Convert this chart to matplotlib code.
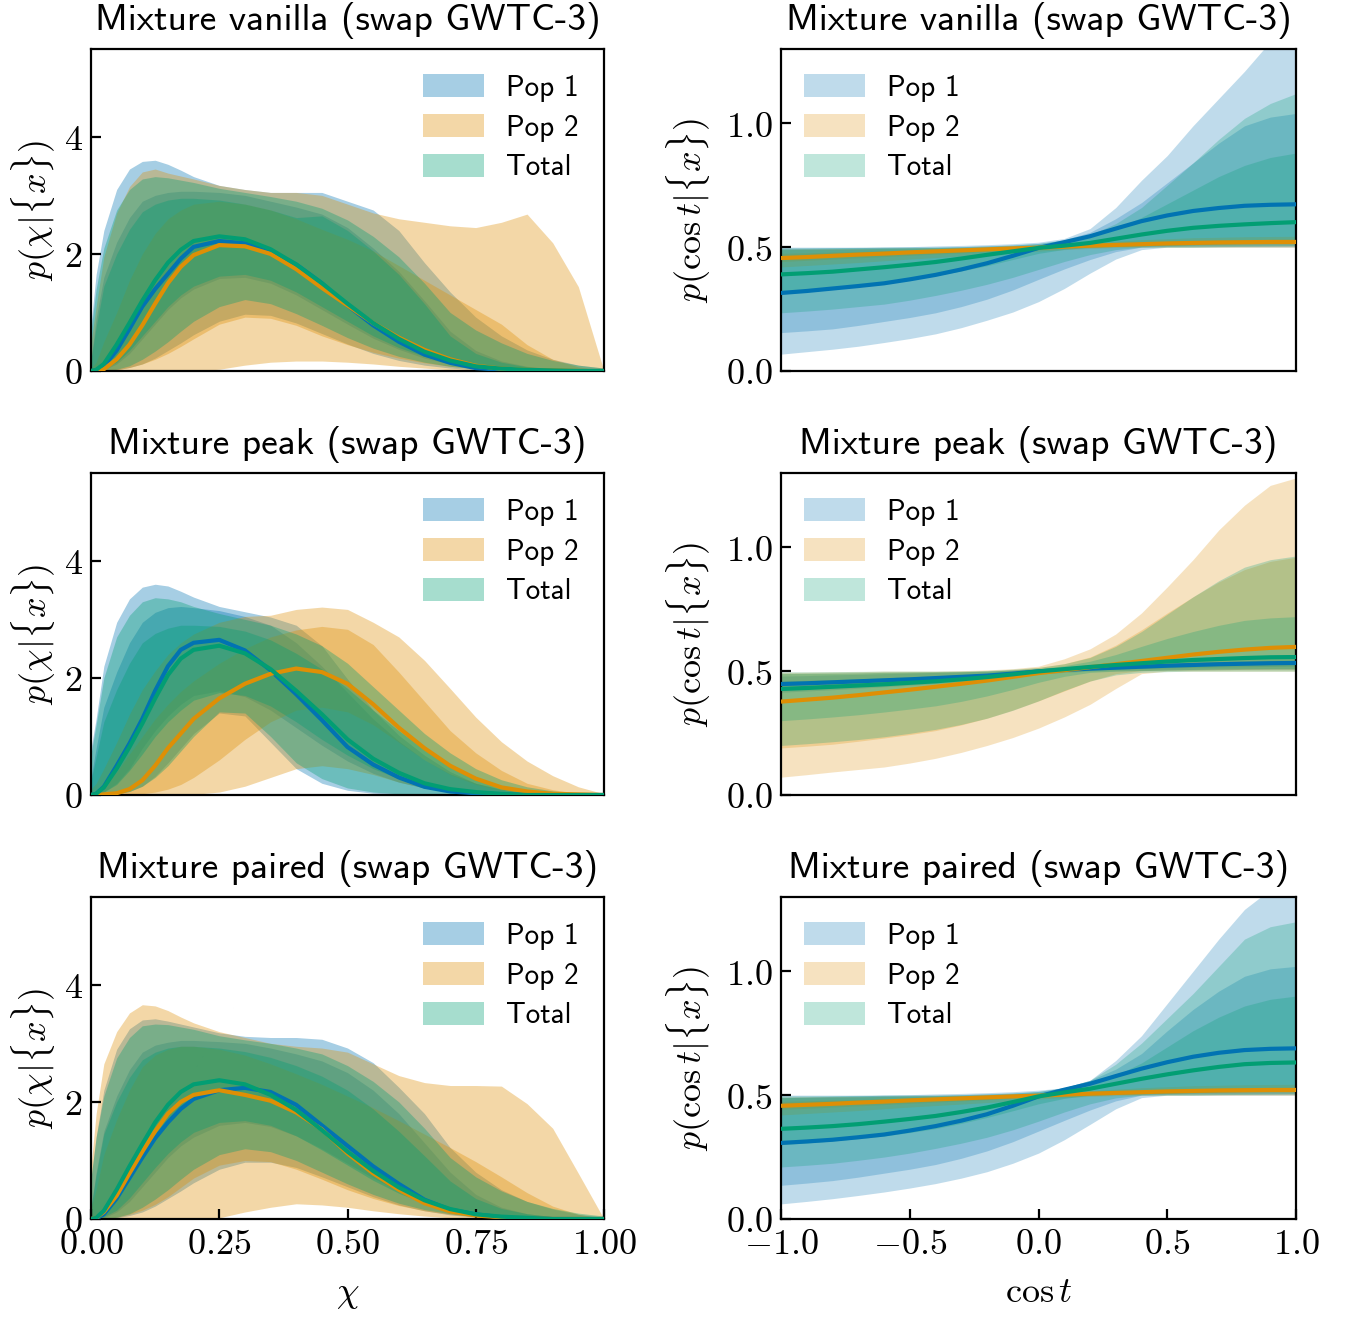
import matplotlib
matplotlib.use("Agg")
import matplotlib.pyplot as plt
from matplotlib.patches import Patch
import numpy as np

plt.rcParams["mathtext.fontset"] = "cm"
plt.rcParams["axes.unicode_minus"] = False

# ---------------------------------------------------------------- grids
chi = [0, 0.01, 0.025, 0.05, 0.075, 0.1, 0.125, 0.15, 0.175, 0.2,
       0.25, 0.3, 0.35, 0.4, 0.45, 0.5, 0.55, 0.6, 0.65, 0.7, 0.75,
       0.8, 0.85, 0.9, 0.95, 1.0]
cost = [-1.0, -0.9, -0.8, -0.7, -0.6, -0.5, -0.4, -0.3, -0.2, -0.1, 0.0,
        0.1, 0.2, 0.3, 0.4, 0.5, 0.6, 0.7, 0.8, 0.9, 1.0]

# each series: rows are the 5%, 25%, 50%, 75%, 95% quantiles of the density
# ---------------------------------------------------------------- vanilla, chi
vanilla_chi_pop1 = [
    [0, 0, 0, 0.02, 0.06, 0.12, 0.22, 0.35, 0.48, 0.62, 0.85, 0.97, 0.95, 0.82, 0.64, 0.46, 0.30, 0.18, 0.10, 0.05, 0.02, 0.01, 0, 0, 0, 0],
    [0, 0, 0.02, 0.12, 0.3, 0.55, 0.8, 1.05, 1.25, 1.40, 1.58, 1.60, 1.50, 1.30, 1.05, 0.80, 0.56, 0.37, 0.22, 0.12, 0.06, 0.02, 0.01, 0, 0, 0],
    [0, 0.01, 0.08, 0.35, 0.72, 1.1, 1.4, 1.66, 1.92, 2.12, 2.22, 2.18, 2.05, 1.82, 1.50, 1.12, 0.78, 0.50, 0.28, 0.14, 0.05, 0.02, 0.01, 0, 0, 0],
    [0.2, 0.9, 1.6, 2.2, 2.62, 2.9, 3.0, 3.05, 3.07, 3.07, 3.05, 3.0, 2.9, 2.8, 2.68, 2.45, 2.1, 1.7, 1.2, 0.68, 0.35, 0.17, 0.08, 0.03, 0.01, 0],
    [0.8, 1.65, 2.4, 3.1, 3.45, 3.58, 3.6, 3.53, 3.43, 3.32, 3.17, 3.1, 3.05, 3.05, 3.05, 2.9, 2.75, 2.4, 1.85, 1.35, 0.92, 0.6, 0.36, 0.2, 0.1, 0.05],
]
vanilla_chi_pop2 = [
    [0, 0, 0, 0, 0, 0, 0, 0, 0, 0, 0.03, 0.1, 0.15, 0.17, 0.17, 0.15, 0.12, 0.08, 0.05, 0.02, 0.01, 0, 0, 0, 0, 0],
    [0, 0, 0, 0.02, 0.06, 0.12, 0.2, 0.3, 0.42, 0.55, 0.8, 0.92, 0.9, 0.78, 0.6, 0.45, 0.32, 0.22, 0.14, 0.08, 0.04, 0.02, 0.01, 0, 0, 0],
    [0, 0, 0.03, 0.2, 0.45, 0.78, 1.15, 1.5, 1.78, 1.98, 2.15, 2.13, 2.0, 1.74, 1.42, 1.12, 0.82, 0.57, 0.36, 0.2, 0.09, 0.04, 0.02, 0.01, 0, 0],
    [0.05, 0.15, 0.5, 1.0, 1.55, 2.0, 2.35, 2.6, 2.75, 2.85, 2.9, 2.85, 2.75, 2.6, 2.42, 2.25, 2.05, 1.8, 1.55, 1.3, 1.05, 0.8, 0.45, 0.2, 0.07, 0],
    [0.5, 1.1, 1.95, 2.7, 3.15, 3.4, 3.45, 3.38, 3.33, 3.28, 3.17, 3.1, 3.05, 3.05, 3.0, 2.85, 2.7, 2.6, 2.54, 2.48, 2.45, 2.54, 2.68, 2.19, 1.44, 0],
]
vanilla_chi_total = [
    [0, 0, 0, 0.03, 0.09, 0.2, 0.34, 0.5, 0.68, 0.85, 1.1, 1.22, 1.15, 0.98, 0.78, 0.57, 0.39, 0.25, 0.15, 0.08, 0.04, 0.02, 0, 0, 0, 0],
    [0, 0, 0.04, 0.15, 0.35, 0.6, 0.85, 1.1, 1.3, 1.45, 1.62, 1.65, 1.55, 1.35, 1.1, 0.85, 0.6, 0.4, 0.25, 0.14, 0.07, 0.03, 0.01, 0, 0, 0],
    [0, 0.02, 0.12, 0.45, 0.82, 1.2, 1.55, 1.85, 2.07, 2.22, 2.3, 2.25, 2.08, 1.82, 1.5, 1.15, 0.82, 0.55, 0.33, 0.18, 0.08, 0.04, 0.02, 0.01, 0, 0],
    [0.2, 0.75, 1.45, 2.0, 2.42, 2.72, 2.85, 2.92, 2.95, 2.95, 2.92, 2.85, 2.75, 2.62, 2.65, 2.4, 2.05, 1.65, 1.15, 0.6, 0.3, 0.15, 0.07, 0.03, 0.01, 0],
    [0.7, 1.4, 2.1, 2.75, 3.1, 3.28, 3.32, 3.3, 3.26, 3.22, 3.12, 3.05, 2.98, 2.9, 2.78, 2.58, 2.3, 1.95, 1.5, 1.0, 0.7, 0.48, 0.3, 0.18, 0.1, 0.05],
]

# ---------------------------------------------------------------- peak, chi
peak_chi_pop1 = [
    [0, 0, 0, 0.02, 0.06, 0.15, 0.32, 0.55, 0.8, 1.05, 1.4, 1.35, 0.9, 0.45, 0.2, 0.08, 0.03, 0.01, 0, 0, 0, 0, 0, 0, 0, 0],
    [0, 0.01, 0.05, 0.2, 0.45, 0.8, 1.1, 1.35, 1.55, 1.7, 1.78, 1.68, 1.45, 1.15, 0.85, 0.58, 0.37, 0.22, 0.12, 0.06, 0.03, 0.01, 0, 0, 0, 0],
    [0, 0.02, 0.14, 0.5, 0.88, 1.3, 1.78, 2.2, 2.48, 2.6, 2.65, 2.47, 2.13, 1.72, 1.28, 0.82, 0.52, 0.3, 0.14, 0.06, 0.03, 0.01, 0, 0, 0, 0],
    [0.3, 0.8, 1.5, 2.1, 2.6, 2.95, 3.12, 3.2, 3.22, 3.2, 3.15, 3.05, 2.9, 2.6, 2.2, 1.75, 1.3, 0.92, 0.6, 0.36, 0.2, 0.1, 0.04, 0.02, 0.01, 0],
    [0.8, 1.3, 2.2, 2.95, 3.35, 3.55, 3.6, 3.57, 3.48, 3.38, 3.22, 3.13, 3.04, 2.9, 2.55, 1.98, 1.45, 1.02, 0.68, 0.4, 0.2, 0.09, 0.04, 0.02, 0.01, 0],
]
peak_chi_pop2 = [
    [0, 0, 0, 0, 0, 0, 0, 0, 0, 0.01, 0.05, 0.15, 0.3, 0.45, 0.5, 0.45, 0.35, 0.22, 0.12, 0.06, 0.02, 0.01, 0, 0, 0, 0],
    [0, 0, 0, 0, 0.01, 0.02, 0.05, 0.1, 0.18, 0.3, 0.6, 0.95, 1.25, 1.45, 1.5, 1.42, 1.2, 0.9, 0.6, 0.35, 0.18, 0.08, 0.03, 0.01, 0, 0],
    [0, 0, 0.01, 0.03, 0.1, 0.25, 0.5, 0.8, 1.05, 1.3, 1.65, 1.9, 2.07, 2.16, 2.1, 1.9, 1.55, 1.15, 0.8, 0.5, 0.28, 0.13, 0.06, 0.02, 0.01, 0],
    [0, 0.04, 0.15, 0.4, 0.7, 1.0, 1.3, 1.55, 1.77, 1.95, 2.25, 2.5, 2.7, 2.82, 2.88, 2.83, 2.57, 2.1, 1.6, 1.1, 0.72, 0.42, 0.2, 0.09, 0.03, 0],
    [0.1, 0.2, 0.45, 0.9, 1.38, 1.8, 2.12, 2.4, 2.6, 2.75, 2.95, 3.05, 3.07, 3.17, 3.21, 3.17, 2.95, 2.7, 2.3, 1.82, 1.33, 0.91, 0.58, 0.33, 0.14, 0.02],
]
peak_chi_total = [
    [0, 0, 0, 0.02, 0.06, 0.15, 0.3, 0.5, 0.75, 1.0, 1.42, 1.4, 1.0, 0.55, 0.28, 0.12, 0.05, 0.02, 0.01, 0, 0, 0, 0, 0, 0, 0],
    [0, 0.01, 0.05, 0.18, 0.42, 0.7, 1.0, 1.25, 1.45, 1.62, 1.75, 1.7, 1.52, 1.25, 0.95, 0.68, 0.45, 0.28, 0.16, 0.08, 0.04, 0.02, 0, 0, 0, 0],
    [0, 0.02, 0.13, 0.45, 0.82, 1.22, 1.65, 2.05, 2.33, 2.48, 2.55, 2.42, 2.15, 1.78, 1.38, 0.95, 0.62, 0.38, 0.2, 0.1, 0.05, 0.02, 0, 0, 0, 0],
    [0.25, 0.65, 1.25, 1.8, 2.25, 2.6, 2.76, 2.85, 2.9, 2.9, 2.88, 2.8, 2.65, 2.42, 2.15, 1.82, 1.45, 1.1, 0.78, 0.5, 0.3, 0.16, 0.08, 0.04, 0.02, 0],
    [0.7, 1.2, 2.0, 2.7, 3.07, 3.3, 3.37, 3.35, 3.3, 3.22, 3.1, 3.0, 2.9, 2.75, 2.55, 2.25, 1.85, 1.45, 1.05, 0.72, 0.45, 0.26, 0.14, 0.07, 0.03, 0.01],
]

# ---------------------------------------------------------------- paired, chi
paired_chi_pop1 = [
    [0, 0, 0, 0.02, 0.06, 0.12, 0.22, 0.35, 0.48, 0.62, 0.85, 0.97, 0.97, 0.88, 0.72, 0.55, 0.38, 0.24, 0.14, 0.07, 0.03, 0.01, 0, 0, 0, 0],
    [0, 0, 0.02, 0.12, 0.3, 0.55, 0.8, 1.05, 1.25, 1.4, 1.6, 1.65, 1.58, 1.42, 1.2, 0.95, 0.7, 0.48, 0.3, 0.17, 0.08, 0.03, 0.01, 0, 0, 0],
    [0, 0.01, 0.08, 0.35, 0.7, 1.05, 1.38, 1.65, 1.88, 2.05, 2.2, 2.24, 2.17, 1.95, 1.6, 1.25, 0.9, 0.6, 0.33, 0.16, 0.08, 0.03, 0.01, 0, 0, 0],
    [0.2, 0.8, 1.5, 2.1, 2.55, 2.85, 2.97, 3.02, 3.05, 3.05, 3.03, 3.0, 2.92, 2.82, 2.7, 2.5, 2.2, 1.8, 1.3, 0.8, 0.42, 0.2, 0.09, 0.04, 0.01, 0],
    [0.7, 1.4, 2.2, 2.9, 3.25, 3.4, 3.42, 3.38, 3.33, 3.28, 3.18, 3.12, 3.1, 3.1, 3.07, 2.92, 2.67, 2.25, 1.8, 1.22, 0.8, 0.5, 0.3, 0.17, 0.08, 0.03],
]
paired_chi_pop2 = [
    [0, 0, 0, 0, 0, 0, 0, 0, 0, 0, 0.02, 0.12, 0.2, 0.26, 0.24, 0.2, 0.14, 0.09, 0.05, 0.02, 0.01, 0, 0, 0, 0, 0],
    [0, 0, 0, 0.03, 0.08, 0.15, 0.25, 0.38, 0.54, 0.7, 0.92, 1.0, 0.98, 0.85, 0.68, 0.5, 0.35, 0.23, 0.14, 0.08, 0.04, 0.02, 0.01, 0, 0, 0],
    [0, 0.02, 0.12, 0.4, 0.78, 1.15, 1.5, 1.8, 2.0, 2.12, 2.2, 2.12, 2.02, 1.82, 1.53, 1.12, 0.78, 0.5, 0.27, 0.13, 0.06, 0.03, 0.01, 0, 0, 0],
    [0.2, 0.5, 1.1, 1.7, 2.2, 2.6, 2.8, 2.9, 2.95, 2.95, 2.9, 2.8, 2.65, 2.48, 2.3, 2.1, 1.9, 1.68, 1.45, 1.22, 0.98, 0.72, 0.45, 0.22, 0.08, 0],
    [0.9, 1.8, 2.65, 3.2, 3.52, 3.66, 3.64, 3.56, 3.45, 3.35, 3.2, 3.1, 3.0, 2.95, 2.92, 2.85, 2.65, 2.45, 2.33, 2.28, 2.28, 2.27, 1.97, 1.55, 0.78, 0],
]
paired_chi_total = [
    [0, 0, 0, 0.03, 0.09, 0.2, 0.34, 0.5, 0.68, 0.85, 1.1, 1.2, 1.15, 1.0, 0.8, 0.6, 0.42, 0.27, 0.16, 0.09, 0.04, 0.02, 0, 0, 0, 0],
    [0, 0, 0.04, 0.15, 0.36, 0.62, 0.88, 1.12, 1.32, 1.48, 1.65, 1.68, 1.6, 1.42, 1.18, 0.92, 0.66, 0.44, 0.27, 0.15, 0.07, 0.03, 0.01, 0, 0, 0],
    [0, 0.02, 0.14, 0.5, 0.9, 1.28, 1.65, 1.95, 2.17, 2.3, 2.37, 2.3, 2.12, 1.86, 1.52, 1.15, 0.82, 0.54, 0.32, 0.17, 0.08, 0.04, 0.02, 0, 0, 0],
    [0.2, 0.75, 1.45, 2.0, 2.42, 2.72, 2.85, 2.92, 2.95, 2.95, 2.92, 2.86, 2.76, 2.62, 2.44, 2.2, 1.88, 1.5, 1.08, 0.65, 0.35, 0.18, 0.09, 0.04, 0.02, 0],
    [0.7, 1.4, 2.1, 2.75, 3.1, 3.3, 3.33, 3.32, 3.28, 3.24, 3.13, 3.06, 3.0, 2.92, 2.82, 2.62, 2.35, 2.0, 1.55, 1.05, 0.72, 0.48, 0.3, 0.18, 0.1, 0.05],
]

# ---------------------------------------------------------------- vanilla, cos t
vanilla_cos_pop1 = [
    [0.068, 0.078, 0.088, 0.1, 0.115, 0.131, 0.15, 0.175, 0.205, 0.238, 0.28, 0.333, 0.395, 0.452, 0.49, 0.5, 0.5, 0.5, 0.5, 0.5, 0.5],
    [0.155, 0.162, 0.17, 0.184, 0.2, 0.216, 0.235, 0.26, 0.29, 0.327, 0.37, 0.412, 0.45, 0.482, 0.5, 0.503, 0.505, 0.505, 0.505, 0.505, 0.505],
    [0.315, 0.323, 0.333, 0.343, 0.354, 0.37, 0.388, 0.41, 0.435, 0.465, 0.497, 0.52, 0.544, 0.575, 0.605, 0.628, 0.646, 0.658, 0.667, 0.671, 0.673],
    [0.495, 0.496, 0.497, 0.498, 0.5, 0.5, 0.5, 0.502, 0.505, 0.508, 0.515, 0.53, 0.56, 0.615, 0.68, 0.76, 0.84, 0.92, 0.99, 1.025, 1.04],
    [0.5, 0.5, 0.5, 0.5, 0.5, 0.502, 0.505, 0.507, 0.51, 0.514, 0.52, 0.535, 0.575, 0.66, 0.77, 0.87, 0.99, 1.1, 1.21, 1.33, 1.42],
]
vanilla_cos_pop2 = [
    [0.42, 0.426, 0.432, 0.438, 0.445, 0.452, 0.458, 0.464, 0.47, 0.477, 0.484, 0.49, 0.495, 0.498, 0.5, 0.5, 0.5, 0.5, 0.5, 0.5, 0.5],
    [0.442, 0.447, 0.452, 0.457, 0.462, 0.467, 0.472, 0.477, 0.482, 0.488, 0.493, 0.497, 0.5, 0.503, 0.505, 0.507, 0.508, 0.509, 0.51, 0.511, 0.511],
    [0.456, 0.46, 0.465, 0.47, 0.474, 0.479, 0.483, 0.487, 0.491, 0.495, 0.498, 0.502, 0.506, 0.509, 0.512, 0.515, 0.517, 0.519, 0.52, 0.521, 0.521],
    [0.475, 0.477, 0.48, 0.482, 0.485, 0.487, 0.49, 0.492, 0.495, 0.498, 0.502, 0.507, 0.512, 0.516, 0.52, 0.523, 0.526, 0.528, 0.53, 0.531, 0.531],
    [0.492, 0.493, 0.494, 0.495, 0.496, 0.497, 0.498, 0.499, 0.5, 0.502, 0.505, 0.511, 0.518, 0.524, 0.53, 0.534, 0.538, 0.54, 0.542, 0.543, 0.544],
]
vanilla_cos_total = [
    [0.235, 0.242, 0.25, 0.26, 0.27, 0.286, 0.305, 0.326, 0.35, 0.378, 0.41, 0.442, 0.47, 0.49, 0.5, 0.5, 0.5, 0.502, 0.503, 0.504, 0.505],
    [0.32, 0.327, 0.335, 0.344, 0.355, 0.369, 0.385, 0.404, 0.425, 0.45, 0.475, 0.491, 0.5, 0.503, 0.505, 0.508, 0.51, 0.513, 0.515, 0.518, 0.52],
    [0.39, 0.395, 0.401, 0.41, 0.419, 0.429, 0.44, 0.454, 0.469, 0.483, 0.497, 0.506, 0.517, 0.534, 0.551, 0.566, 0.578, 0.586, 0.592, 0.597, 0.601],
    [0.49, 0.491, 0.492, 0.493, 0.495, 0.496, 0.497, 0.498, 0.5, 0.504, 0.51, 0.52, 0.54, 0.575, 0.62, 0.675, 0.73, 0.785, 0.83, 0.862, 0.88],
    [0.497, 0.497, 0.498, 0.499, 0.5, 0.5, 0.5, 0.502, 0.505, 0.509, 0.515, 0.528, 0.55, 0.595, 0.66, 0.75, 0.84, 0.935, 1.02, 1.08, 1.12],
]

# ---------------------------------------------------------------- peak, cos t
peak_cos_pop1 = [
    [0.415, 0.42, 0.425, 0.431, 0.437, 0.443, 0.45, 0.457, 0.465, 0.476, 0.488, 0.495, 0.5, 0.501, 0.502, 0.504, 0.505, 0.506, 0.507, 0.508, 0.508],
    [0.435, 0.439, 0.443, 0.447, 0.452, 0.457, 0.462, 0.468, 0.475, 0.485, 0.495, 0.5, 0.505, 0.508, 0.51, 0.513, 0.515, 0.517, 0.518, 0.519, 0.52],
    [0.448, 0.451, 0.455, 0.459, 0.463, 0.467, 0.472, 0.477, 0.482, 0.49, 0.499, 0.505, 0.51, 0.514, 0.518, 0.522, 0.525, 0.528, 0.53, 0.532, 0.533],
    [0.46, 0.463, 0.466, 0.469, 0.473, 0.477, 0.481, 0.485, 0.49, 0.496, 0.503, 0.509, 0.515, 0.521, 0.527, 0.532, 0.536, 0.539, 0.542, 0.544, 0.545],
    [0.48, 0.482, 0.485, 0.487, 0.49, 0.492, 0.495, 0.497, 0.5, 0.505, 0.51, 0.517, 0.525, 0.533, 0.54, 0.546, 0.552, 0.556, 0.56, 0.563, 0.565],
]
peak_cos_pop2 = [
    [0.072, 0.082, 0.093, 0.103, 0.113, 0.129, 0.148, 0.172, 0.2, 0.232, 0.27, 0.315, 0.366, 0.43, 0.49, 0.5, 0.5, 0.5, 0.5, 0.5, 0.5],
    [0.19, 0.197, 0.205, 0.217, 0.23, 0.244, 0.26, 0.283, 0.31, 0.343, 0.38, 0.42, 0.46, 0.49, 0.502, 0.504, 0.505, 0.506, 0.507, 0.508, 0.508],
    [0.377, 0.385, 0.393, 0.403, 0.414, 0.425, 0.437, 0.449, 0.462, 0.477, 0.492, 0.504, 0.516, 0.528, 0.541, 0.554, 0.567, 0.578, 0.587, 0.594, 0.598],
    [0.49, 0.491, 0.492, 0.493, 0.495, 0.496, 0.497, 0.498, 0.5, 0.505, 0.515, 0.53, 0.557, 0.605, 0.667, 0.735, 0.8, 0.86, 0.91, 0.943, 0.96],
    [0.495, 0.496, 0.497, 0.498, 0.5, 0.5, 0.5, 0.502, 0.505, 0.51, 0.52, 0.55, 0.59, 0.65, 0.735, 0.84, 0.95, 1.07, 1.17, 1.25, 1.28],
]
peak_cos_total = [
    [0.2, 0.207, 0.215, 0.224, 0.235, 0.249, 0.265, 0.285, 0.31, 0.342, 0.38, 0.422, 0.46, 0.485, 0.495, 0.498, 0.5, 0.5, 0.5, 0.5, 0.5],
    [0.3, 0.307, 0.315, 0.324, 0.335, 0.347, 0.36, 0.378, 0.4, 0.426, 0.455, 0.479, 0.495, 0.5, 0.503, 0.505, 0.507, 0.509, 0.51, 0.51, 0.51],
    [0.428, 0.432, 0.437, 0.442, 0.447, 0.453, 0.459, 0.467, 0.476, 0.487, 0.499, 0.508, 0.517, 0.525, 0.532, 0.539, 0.545, 0.549, 0.553, 0.556, 0.557],
    [0.49, 0.491, 0.492, 0.493, 0.495, 0.496, 0.497, 0.498, 0.5, 0.504, 0.51, 0.522, 0.54, 0.567, 0.6, 0.632, 0.66, 0.685, 0.705, 0.715, 0.72],
    [0.497, 0.497, 0.498, 0.499, 0.5, 0.5, 0.5, 0.501, 0.503, 0.508, 0.515, 0.53, 0.555, 0.6, 0.66, 0.73, 0.8, 0.865, 0.92, 0.95, 0.965],
]

# ---------------------------------------------------------------- paired, cos t
paired_cos_pop1 = [
    [0.061, 0.071, 0.082, 0.095, 0.109, 0.125, 0.143, 0.165, 0.191, 0.225, 0.266, 0.32, 0.382, 0.445, 0.49, 0.5, 0.5, 0.5, 0.5, 0.5, 0.5],
    [0.136, 0.145, 0.155, 0.169, 0.185, 0.201, 0.22, 0.245, 0.275, 0.312, 0.355, 0.398, 0.44, 0.477, 0.5, 0.503, 0.505, 0.505, 0.505, 0.505, 0.505],
    [0.307, 0.313, 0.32, 0.33, 0.341, 0.357, 0.375, 0.397, 0.423, 0.457, 0.495, 0.522, 0.546, 0.577, 0.607, 0.633, 0.655, 0.671, 0.682, 0.687, 0.689],
    [0.49, 0.492, 0.495, 0.497, 0.5, 0.5, 0.5, 0.502, 0.505, 0.508, 0.515, 0.53, 0.56, 0.605, 0.668, 0.76, 0.846, 0.92, 0.98, 1.01, 1.02],
    [0.5, 0.5, 0.5, 0.5, 0.5, 0.502, 0.505, 0.507, 0.51, 0.514, 0.52, 0.53, 0.56, 0.64, 0.74, 0.87, 1.0, 1.13, 1.25, 1.33, 1.4],
]
paired_cos_pop2 = [
    [0.42, 0.426, 0.432, 0.438, 0.445, 0.452, 0.458, 0.464, 0.47, 0.477, 0.484, 0.49, 0.495, 0.498, 0.5, 0.5, 0.5, 0.5, 0.5, 0.5, 0.5],
    [0.443, 0.447, 0.452, 0.457, 0.462, 0.467, 0.472, 0.477, 0.482, 0.488, 0.493, 0.497, 0.5, 0.503, 0.505, 0.507, 0.508, 0.509, 0.51, 0.511, 0.511],
    [0.457, 0.461, 0.465, 0.47, 0.474, 0.479, 0.483, 0.487, 0.491, 0.495, 0.498, 0.502, 0.506, 0.509, 0.512, 0.515, 0.517, 0.519, 0.52, 0.521, 0.521],
    [0.475, 0.477, 0.48, 0.482, 0.485, 0.487, 0.49, 0.492, 0.495, 0.498, 0.502, 0.507, 0.512, 0.516, 0.52, 0.523, 0.526, 0.528, 0.53, 0.531, 0.531],
    [0.492, 0.493, 0.494, 0.495, 0.496, 0.497, 0.498, 0.499, 0.5, 0.502, 0.505, 0.511, 0.518, 0.524, 0.53, 0.534, 0.538, 0.54, 0.542, 0.543, 0.544],
]
paired_cos_total = [
    [0.21, 0.217, 0.225, 0.237, 0.25, 0.266, 0.285, 0.306, 0.33, 0.36, 0.395, 0.432, 0.465, 0.489, 0.5, 0.5, 0.5, 0.502, 0.503, 0.504, 0.505],
    [0.3, 0.307, 0.315, 0.324, 0.335, 0.349, 0.365, 0.386, 0.41, 0.437, 0.465, 0.487, 0.5, 0.503, 0.505, 0.508, 0.51, 0.513, 0.515, 0.518, 0.52],
    [0.364, 0.369, 0.375, 0.383, 0.393, 0.404, 0.416, 0.432, 0.45, 0.472, 0.495, 0.511, 0.526, 0.546, 0.566, 0.584, 0.6, 0.614, 0.625, 0.63, 0.632],
    [0.49, 0.491, 0.492, 0.493, 0.495, 0.496, 0.497, 0.498, 0.5, 0.504, 0.51, 0.522, 0.545, 0.58, 0.63, 0.695, 0.76, 0.815, 0.86, 0.887, 0.9],
    [0.497, 0.497, 0.498, 0.499, 0.5, 0.5, 0.5, 0.502, 0.505, 0.509, 0.515, 0.53, 0.56, 0.625, 0.71, 0.81, 0.91, 1.02, 1.13, 1.18, 1.2],
]

titles = ["Mixture vanilla (swap GWTC-3)",
          "Mixture peak (swap GWTC-3)",
          "Mixture paired (swap GWTC-3)"]
labels = ["Pop 1", "Pop 2", "Total"]
colors = ["#0173b2", "#de8f05", "#029e73"]

chi_rows = [
    (vanilla_chi_pop1, vanilla_chi_pop2, vanilla_chi_total),
    (peak_chi_pop1, peak_chi_pop2, peak_chi_total),
    (paired_chi_pop1, paired_chi_pop2, paired_chi_total),
]
cos_rows = [
    (vanilla_cos_pop1, vanilla_cos_pop2, vanilla_cos_total),
    (peak_cos_pop1, peak_cos_pop2, peak_cos_total),
    (paired_cos_pop1, paired_cos_pop2, paired_cos_total),
]

TITLE_FONT = dict(family="cmss10", size=27)
LEGEND_FONT = dict(family="cmss10", size=21)

W, H = 1348, 1319
fig = plt.figure(figsize=(W / 100, H / 100), dpi=100)


def px_axes(x0, y_top, w, h):
    return fig.add_axes([x0 / W, 1 - (y_top + h) / H, w / W, h / H])


def draw_bands(ax, x, series, alpha):
    x = np.asarray(x)
    for q, c in zip(series, colors):
        q = np.asarray(q, dtype=float)
        ax.fill_between(x, q[0], q[4], color=c, alpha=alpha, lw=0, zorder=1)
        ax.fill_between(x, q[1], q[3], color=c, alpha=alpha, lw=0, zorder=1)
    for q, c in zip(series, colors):
        ax.plot(x, q[2], color=c, lw=3, zorder=3, solid_capstyle="butt")


def style(ax, bottom_row):
    for s in ax.spines.values():
        s.set_linewidth(1.6)
    ax.tick_params(direction="in", length=7, width=1.6, top=False, right=False,
                   labelsize=26, pad=6)
    if not bottom_row:
        ax.tick_params(axis="x", bottom=False, labelbottom=False)


row_tops = [49, 473, 897]
for r in range(3):
    bottom_row = r == 2

    # spin magnitude
    ax = px_axes(91, row_tops[r], 513, 322)
    draw_bands(ax, chi, chi_rows[r], 0.35)
    ax.set_xlim(0, 1)
    ax.set_ylim(0, 5.5)
    ax.set_yticks([0, 2, 4])
    ax.set_yticklabels([r"$0$", r"$2$", r"$4$"])
    ax.set_xticks([0, 0.25, 0.5, 0.75, 1.0])
    ax.set_xticklabels([r"$0.00$", r"$0.25$", r"$0.50$", r"$0.75$", r"$1.00$"])
    style(ax, bottom_row)
    ax.set_ylabel(r"$p(\chi|\{x\})$", fontsize=26, labelpad=4)
    if bottom_row:
        ax.set_xlabel(r"$\chi$", fontsize=26, labelpad=11)
    ax.set_title(titles[r], fontdict=TITLE_FONT, pad=14)
    handles = [Patch(facecolor=c, alpha=0.35, lw=0) for c in colors]
    ax.legend(handles, labels, loc="upper right", frameon=False,
              prop=LEGEND_FONT, handlelength=2.1, handleheight=0.85,
              handletextpad=0.75, labelspacing=0.42,
              borderaxespad=0.45, bbox_to_anchor=(0.999, 1.0))

    # spin tilt
    ax = px_axes(781, row_tops[r], 515, 322)
    draw_bands(ax, cost, cos_rows[r], 0.25)
    ax.set_xlim(-1, 1)
    ax.set_ylim(0, 1.3)
    ax.set_yticks([0, 0.5, 1.0])
    ax.set_yticklabels([r"$0.0$", r"$0.5$", r"$1.0$"])
    ax.set_xticks([-1, -0.5, 0, 0.5, 1])
    ax.set_xticklabels([r"$-1.0$", r"$-0.5$", r"$0.0$", r"$0.5$", r"$1.0$"])
    style(ax, bottom_row)
    ax.set_ylabel(r"$p(\cos t|\{x\})$", fontsize=26, labelpad=9)
    if bottom_row:
        ax.set_xlabel(r"$\cos t$", fontsize=26, labelpad=10)
    ax.set_title(titles[r], fontdict=TITLE_FONT, pad=14)
    handles = [Patch(facecolor=c, alpha=0.25, lw=0) for c in colors]
    ax.legend(handles, labels, loc="upper left", frameon=False,
              prop=LEGEND_FONT, handlelength=2.1, handleheight=0.85,
              handletextpad=0.75, labelspacing=0.42,
              borderaxespad=0.45, bbox_to_anchor=(-0.003, 1.0))

fig.savefig("out.png", dpi=100)
